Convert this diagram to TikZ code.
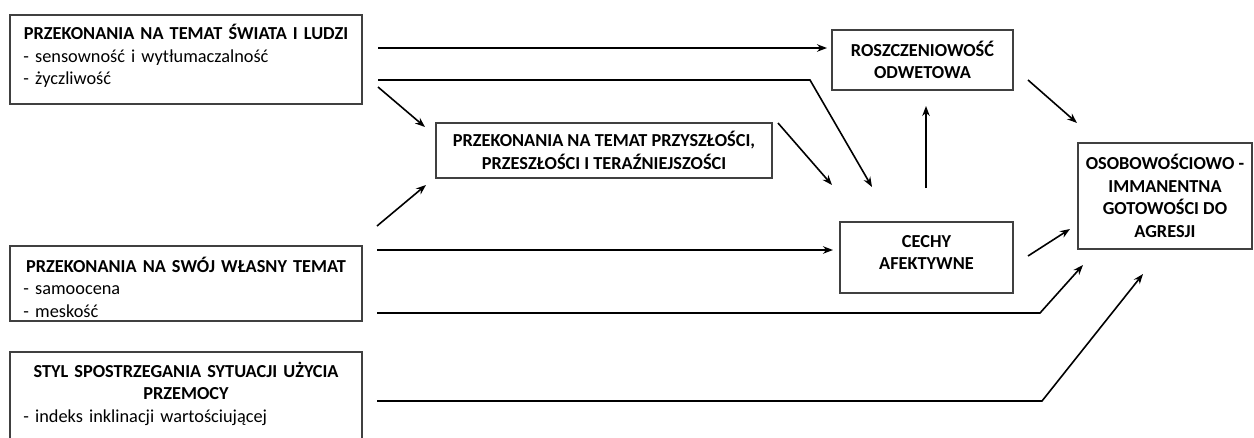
\documentclass[tikz,border=0pt]{standalone}
\usepackage{fontspec}
\setmainfont{Carlito}
\usetikzlibrary{arrows.meta}
\begin{document}
\begin{tikzpicture}[x=1pt,y=-1pt,
  box/.style={draw=black!75, line width=1.2pt, rectangle, inner sep=0pt},
  txt/.style={inner sep=0pt, text width=340pt, align=left, font=\fontsize{18.3}{22.5}\selectfont},
  ctr/.style={box, align=center, font=\fontsize{18.3}{22.5}\selectfont\bfseries},
  ctxt/.style={inner sep=0pt, align=center, font=\fontsize{18.3}{22.5}\selectfont\bfseries},
  arr/.style={line width=1.6pt, -{Stealth[length=10pt,width=7.5pt]}},
  ln/.style={line width=1.6pt}]
\useasboundingbox (0,0) rectangle (1254,437);
\clip (0,0) rectangle (1254,437);
% left boxes
\node[box, minimum width=352pt, minimum height=89pt] (A) at (186,59.5) {};
\node[txt] (At) at (186,56) {{\centering\bfseries PRZEKONANIA NA TEMAT ŚWIATA I LUDZI\par}\hspace*{7.5pt}- sensowność i wytłumaczalność\\\hspace*{7.5pt}- życzliwość};
\node[box, minimum width=352pt, minimum height=75pt] (B) at (186,283.5) {};
\node[txt] (Bt) at (186,287) {{\centering\bfseries PRZEKONANIA NA SWÓJ WŁASNY TEMAT\par}\hspace*{7.5pt}- samoocena\\\hspace*{7.5pt}- meskość};
\node[box, minimum width=352pt, minimum height=108pt] (C) at (186,406) {};
\node[txt] (Ct) at (186,393.5) {{\centering\bfseries STYL SPOSTRZEGANIA SYTUACJI UŻYCIA\\PRZEMOCY\par}\hspace*{7.5pt}- indeks inklinacji wartościującej};
% other boxes
\node[ctr, minimum width=336pt, minimum height=55pt] (D) at (604,150.5) {PRZEKONANIA NA TEMAT PRZYSZŁOŚCI,\\PRZESZŁOŚCI I TERAŹNIEJSZOŚCI};
\node[ctr, minimum width=181pt, minimum height=60pt] (E) at (922.5,60) {ROSZCZENIOWOŚĆ\\ODWETOWA};
\node[box, minimum width=173pt, minimum height=71pt] (F) at (926.5,257.5) {};
\node[ctxt] (Ft) at (926.5,252.5) {CECHY\\AFEKTYWNE};
\node[ctr, minimum width=174pt, minimum height=106pt] (G) at (1165,196) {OSOBOWOŚCIOWO -\\IMMANENTNA\\GOTOWOŚCI DO\\AGRESJI};
% connector end points
\coordinate (a1) at (378,48);  \coordinate (e1) at (827,48);
\coordinate (a2) at (378,80);  \coordinate (k2) at (810,80);  \coordinate (f2) at (872,187);
\coordinate (a3) at (378,87);  \coordinate (d3) at (425,127);
\coordinate (b4) at (377,226); \coordinate (d4) at (426,185);
\coordinate (b5) at (377,250); \coordinate (f5) at (833,250);
\coordinate (d6) at (778,123); \coordinate (f6) at (832,185);
\coordinate (f7) at (926,188); \coordinate (e7) at (926,106);
\coordinate (e8) at (1028,80); \coordinate (g8) at (1077,123);
\coordinate (f9) at (1028,256); \coordinate (g9) at (1070,229);
\coordinate (b10) at (377,313); \coordinate (k10) at (1040,313); \coordinate (g10) at (1083,265);
\coordinate (c11) at (377,401); \coordinate (k11) at (1042,401); \coordinate (g11) at (1143,274);
% connectors
\draw[arr] (a1) -- (e1);
\draw[arr] (a2) -- (k2) -- (f2);
\draw[arr] (a3) -- (d3);
\draw[arr] (b4) -- (d4);
\draw[arr] (b5) -- (f5);
\draw[arr] (d6) -- (f6);
\draw[arr] (f7) -- (e7);
\draw[arr] (e8) -- (g8);
\draw[arr] (f9) -- (g9);
\draw[arr] (b10) -- (k10) -- (g10);
\draw[arr] (c11) -- (k11) -- (g11);
\end{tikzpicture}
\end{document}
